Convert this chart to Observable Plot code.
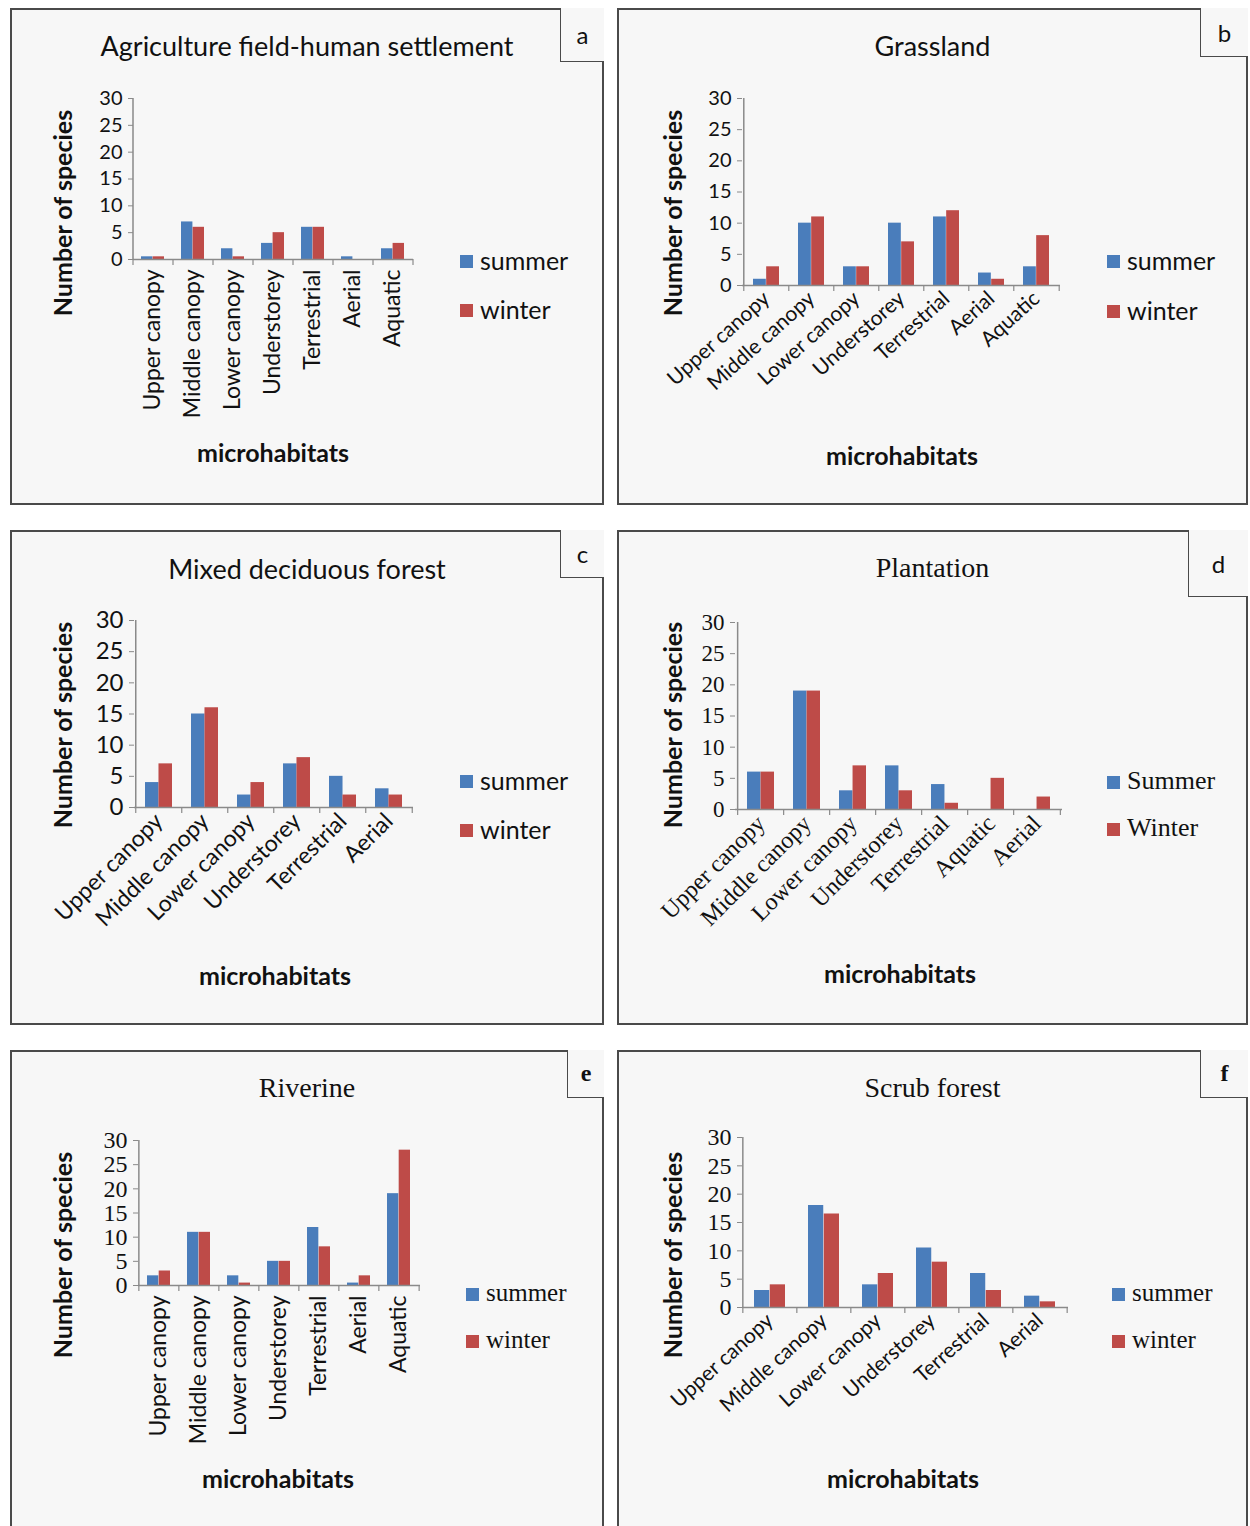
<!DOCTYPE html>
<html>
<head>
<meta charset="utf-8">
<script src="https://cdn.jsdelivr.net/npm/d3@7"></script>
<script src="https://cdn.jsdelivr.net/npm/@observablehq/plot@0.6"></script>
<style>
  html, body { margin: 0; padding: 0; background: #ffffff; }
  #page { position: relative; width: 1250px; height: 1526px; overflow: hidden; background: #ffffff; }
  .panel { position: absolute; box-sizing: border-box; border: 2px solid #4a4a4a; background: #f7f7f7; }
  .letter { position: absolute; box-sizing: border-box; border: 1.5px solid #4a4a4a; border-top: none; border-right: none;
            display: flex; align-items: center; justify-content: center; color: #111; background: #f7f7f7; }
  .abs { position: absolute; white-space: nowrap; color: #111; }
  .center { transform: translate(-50%, -50%); }
  .vlabel { transform: translate(-50%, -50%) rotate(-90deg); }
  .sw { position: absolute; width: 13px; height: 13px; }
  svg { position: absolute; overflow: visible; }
</style>
</head>
<body>
<div id="page"></div>
<script>
// ---------- data ----------
const catsA = ["Upper canopy", "Middle canopy", "Lower canopy", "Understorey", "Terrestrial", "Aerial", "Aquatic"];
const summerA = [0.5, 7, 2, 3, 6, 0.5, 2];
const winterA = [0.5, 6, 0.5, 5, 6, 0, 3];

const catsB = ["Upper canopy", "Middle canopy", "Lower canopy", "Understorey", "Terrestrial", "Aerial", "Aquatic"];
const summerB = [1, 10, 3, 10, 11, 2, 3];
const winterB = [3, 11, 3, 7, 12, 1, 8];

const catsC = ["Upper canopy", "Middle canopy", "Lower canopy", "Understorey", "Terrestrial", "Aerial"];
const summerC = [4, 15, 2, 7, 5, 3];
const winterC = [7, 16, 4, 8, 2, 2];

const catsD = ["Upper canopy", "Middle canopy", "Lower canopy", "Understorey", "Terrestrial", "Aquatic", "Aerial"];
const summerD = [6, 19, 3, 7, 4, 0, 0];
const winterD = [6, 19, 7, 3, 1, 5, 2];

const catsE = ["Upper canopy", "Middle canopy", "Lower canopy", "Understorey", "Terrestrial", "Aerial", "Aquatic"];
const summerE = [2, 11, 2, 5, 12, 0.5, 19];
const winterE = [3, 11, 0.5, 5, 8, 2, 28];

const catsF = ["Upper canopy", "Middle canopy", "Lower canopy", "Understorey", "Terrestrial", "Aerial"];
const summerF = [3, 18, 4, 10.5, 6, 2];
const winterF = [4, 16.5, 6, 8, 3, 1];

const yTicks = [0, 5, 10, 15, 20, 25, 30];
const seasons = ["summer", "winter"];
const seasonColors = ["#4a7dbb", "#be4b48"];

// ---------- fonts ----------
const SANS = "Lato, 'Open Sans', sans-serif";
const SERIF = "'Liberation Serif', 'DejaVu Serif', serif";

// ---------- panel configs (layout only) ----------
const panels = [
  { cats: catsA, summer: summerA, winter: winterA, title: "Agriculture field-human settlement", letter: "a",
    box: [10, 8, 604, 505], letterBox: [560, 8, 604, 62], axis: [133, 413, 98, 259], rotate: -90,
    titleFont: SANS, titleSize: 27, titleY: 45, yFont: SANS, ySize: 20, xFont: SANS, xSize: 23,
    legendFont: SANS, legendSize: 25, legendLabels: ["summer", "winter"], legendX: 460, legendY: [261, 310],
    ylab: [62, 213], xlab: [273, 452], letterFont: SANS },
  { cats: catsB, summer: summerB, winter: winterB, title: "Grassland", letter: "b",
    box: [617, 8, 1248, 505], letterBox: [1200, 8, 1248, 57], axis: [742, 1060, 98, 285], rotate: -42,
    titleFont: SANS, titleSize: 27, titleY: 45, yFont: SANS, ySize: 20, xFont: SANS, xSize: 21,
    legendFont: SANS, legendSize: 25, legendLabels: ["summer", "winter"], legendX: 1107, legendY: [261, 311],
    ylab: [672, 213], xlab: [902, 455], letterFont: SANS },
  { cats: catsC, summer: summerC, winter: winterC, title: "Mixed deciduous forest", letter: "c",
    box: [10, 530, 604, 1025], letterBox: [560, 530, 604, 578], axis: [134, 413, 620, 807], rotate: -45,
    titleFont: SANS, titleSize: 27, titleY: 568, yFont: SANS, ySize: 24, xFont: SANS, xSize: 23,
    legendFont: SANS, legendSize: 25, legendLabels: ["summer", "winter"], legendX: 460, legendY: [781, 830],
    ylab: [62, 725], xlab: [275, 975], letterFont: SANS },
  { cats: catsD, summer: summerD, winter: winterD, title: "Plantation", letter: "d",
    box: [617, 530, 1248, 1025], letterBox: [1188, 530, 1248, 597], axis: [735, 1062, 622, 809], rotate: -45,
    titleFont: SERIF, titleSize: 28, titleY: 568, yFont: SERIF, ySize: 23, xFont: SERIF, xSize: 24,
    legendFont: SERIF, legendSize: 26, legendLabels: ["Summer", "Winter"], legendX: 1107, legendY: [782, 829],
    ylab: [672, 725], xlab: [900, 973], letterFont: SANS },
  { cats: catsE, summer: summerE, winter: winterE, title: "Riverine", letter: "e",
    box: [10, 1050, 604, 1532], letterBox: [567, 1050, 604, 1098], axis: [138, 420, 1140, 1285], rotate: -90,
    titleFont: SERIF, titleSize: 28, titleY: 1088, yFont: SERIF, ySize: 24, xFont: SANS, xSize: 23,
    legendFont: SERIF, legendSize: 25, legendLabels: ["summer", "winter"], legendX: 466, legendY: [1294, 1341],
    ylab: [62, 1255], xlab: [278, 1478], letterFont: SERIF },
  { cats: catsF, summer: summerF, winter: winterF, title: "Scrub forest", letter: "f",
    box: [617, 1050, 1248, 1532], letterBox: [1200, 1050, 1248, 1098], axis: [742, 1068, 1137, 1307], rotate: -42,
    titleFont: SERIF, titleSize: 28, titleY: 1088, yFont: SERIF, ySize: 24, xFont: SANS, xSize: 21,
    legendFont: SERIF, legendSize: 25, legendLabels: ["summer", "winter"], legendX: 1112, legendY: [1294, 1341],
    ylab: [672, 1255], xlab: [903, 1478], letterFont: SERIF }
];

const page = document.getElementById("page");

function el(tag, cls, style, text) {
  const e = document.createElement(tag);
  if (cls) e.className = cls;
  Object.assign(e.style, style);
  if (text != null) e.textContent = text;
  page.appendChild(e);
  return e;
}

for (const p of panels) {
  const [L, T, R, B] = p.box;
  el("div", "panel", { left: L + "px", top: T + "px", width: (R - L) + "px", height: (B - T) + "px" });

  const [ax0, ax1, y30, y0] = p.axis;
  const n = p.cats.length;
  const pad = 0.42;
  const step = (ax1 - ax0) / n;
  const bw = step * (1 - pad);
  const pxPerUnit = (y0 - y30) / 30;
  const tickLen = 6 / pxPerUnit;

  const rows = p.cats.flatMap((c, i) => [
    { cat: c, season: seasons[0], value: p.summer[i] },
    { cat: c, season: seasons[1], value: p.winter[i] }
  ]);
  const W = R - L, H = B - T;

  const chart = Plot.plot({
    width: W,
    height: H,
    marginLeft: ax0 - L,
    marginRight: R - ax1,
    marginTop: y30 - T,
    marginBottom: B - y0,
    style: { background: "transparent", color: "#111", fontFamily: p.xFont },
    x: { domain: p.cats, paddingInner: pad, paddingOuter: pad / 2, label: null },
    y: { domain: [0, 30], label: null },
    color: { domain: seasons, range: seasonColors },
    marks: [
      Plot.barY(rows.filter(d => d.season === seasons[0]), { x: "cat", y: "value", fill: "season", insetRight: bw / 2 }),
      Plot.barY(rows.filter(d => d.season === seasons[1]), { x: "cat", y: "value", fill: "season", insetLeft: bw / 2 }),
      Plot.ruleY([0], { stroke: "#8a8a8a", strokeWidth: 1.5 }),
      Plot.ruleX([p.cats[0]], { x: d => d, dx: -step / 2, y1: 0, y2: 30, stroke: "#8a8a8a", strokeWidth: 1.5 }),
      Plot.ruleX(p.cats, { x: d => d, dx: -step / 2, y1: 0, y2: -tickLen, stroke: "#8a8a8a", strokeWidth: 1.2 }),
      Plot.ruleX([p.cats[n - 1]], { x: d => d, dx: step / 2, y1: 0, y2: -tickLen, stroke: "#8a8a8a", strokeWidth: 1.2 }),
      Plot.axisY({ ticks: yTicks, tickSize: 5, tickPadding: 6, stroke: "#8a8a8a", fontSize: p.ySize, fontFamily: p.yFont, label: null, fill: "#111" }),
      Plot.axisX({ tickSize: 0, tickPadding: 10, tickRotate: p.rotate, fontSize: p.xSize, fontFamily: p.xFont, label: null, fill: "#111" })
    ]
  });
  chart.style.left = L + "px";
  chart.style.top = T + "px";
  page.appendChild(chart);

  // title
  el("div", "abs center", { left: ((L + R) / 2) + "px", top: p.titleY + "px", fontFamily: p.titleFont, fontSize: p.titleSize + "px" }, p.title);
  // letter box
  const [lL, lT, lR, lB] = p.letterBox;
  el("div", "letter", { left: lL + "px", top: lT + "px", width: (lR - lL) + "px", height: (lB - lT) + "px",
    fontFamily: p.letterFont, fontSize: "24px", fontWeight: p.letterFont === SERIF ? "bold" : "normal" }, p.letter);
  // axis titles
  el("div", "abs vlabel", { left: p.ylab[0] + "px", top: p.ylab[1] + "px", fontFamily: SANS, fontWeight: "bold", fontSize: "25px" }, "Number of species");
  el("div", "abs center", { left: p.xlab[0] + "px", top: p.xlab[1] + "px", fontFamily: SANS, fontWeight: "bold", fontSize: "25px" }, "microhabitats");
  // legend
  p.legendLabels.forEach((lab, i) => {
    const cy = p.legendY[i];
    el("div", "sw", { left: p.legendX + "px", top: (cy - 6) + "px", background: seasonColors[i] });
    el("div", "abs", { left: (p.legendX + 20) + "px", top: cy + "px", transform: "translateY(-55%)",
      fontFamily: p.legendFont, fontSize: p.legendSize + "px" }, lab);
  });
}
</script>
</body>
</html>
